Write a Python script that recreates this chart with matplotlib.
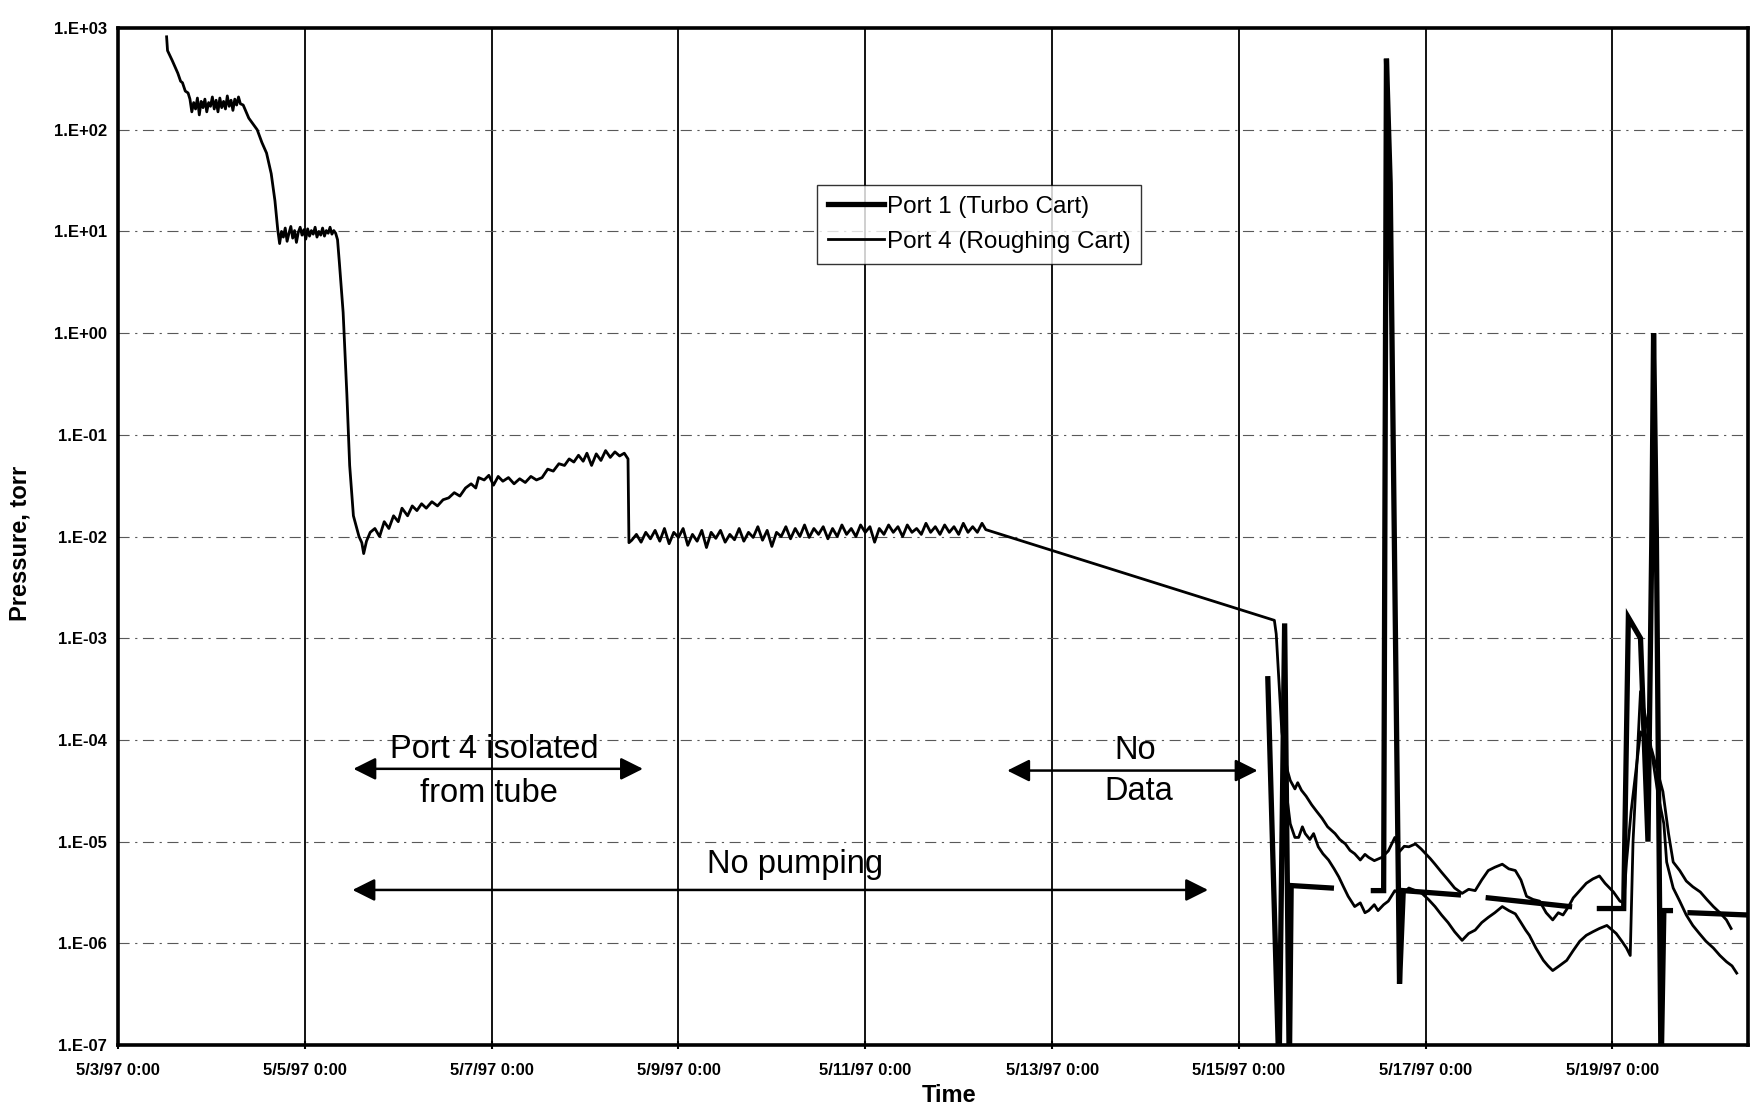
import numpy as np
import matplotlib
matplotlib.use("Agg")
import matplotlib.pyplot as plt
import matplotlib.dates as mdates
from matplotlib.ticker import FixedLocator, FuncFormatter, NullLocator
import datetime as dt

plt.rcParams['font.family'] = ['Liberation Sans', 'DejaVu Sans']

# days after 5/3/97 0:00, pressure in torr
port4_days = [
    0.52, 0.53, 0.58, 0.64, 0.67, 0.69, 0.72, 0.75,
    0.77, 0.79, 0.81, 0.83, 0.85, 0.87, 0.89, 0.91, 0.93, 0.95, 0.97, 0.99,
    1.01, 1.03, 1.05, 1.07, 1.09, 1.11, 1.13, 1.15, 1.17, 1.19, 1.21, 1.23,
    1.25, 1.27, 1.29, 1.31, 1.34, 1.40, 1.49, 1.54, 1.59, 1.64, 1.68,
    1.71, 1.73, 1.75, 1.77, 1.79, 1.81, 1.83, 1.85, 1.87, 1.89, 1.91, 1.93,
    1.95, 1.97, 1.99, 2.01, 2.03, 2.05, 2.07, 2.09, 2.11, 2.13, 2.15, 2.17,
    2.19, 2.21, 2.23, 2.25, 2.27, 2.29, 2.31, 2.33, 2.35,
    2.37, 2.41, 2.45, 2.48, 2.52, 2.58, 2.61, 2.63, 2.66, 2.70, 2.75,
    2.80, 2.85, 2.90, 2.95, 3.00, 3.04, 3.10, 3.15, 3.20, 3.25, 3.30, 3.36,
    3.42, 3.48, 3.54, 3.60, 3.66, 3.72, 3.78, 3.83, 3.86, 3.92, 3.97, 4.02,
    4.07, 4.12, 4.18, 4.24, 4.30, 4.36, 4.42, 4.48, 4.54, 4.60, 4.66, 4.72,
    4.78, 4.83, 4.88, 4.93, 4.98, 5.02, 5.07, 5.12, 5.17, 5.22, 5.27, 5.32,
    5.37, 5.42, 5.46, 5.47,
    5.50, 5.55, 5.60, 5.65, 5.70, 5.75, 5.80, 5.85, 5.90, 5.95, 6.00, 6.05,
    6.10, 6.15, 6.20, 6.25, 6.30, 6.35, 6.40, 6.45, 6.50, 6.55, 6.60, 6.65,
    6.70, 6.75, 6.80, 6.85, 6.90, 6.95, 7.00, 7.05, 7.10, 7.15, 7.20, 7.25,
    7.30, 7.35, 7.40, 7.45, 7.50, 7.55, 7.60, 7.65, 7.70, 7.75, 7.80, 7.85,
    7.90, 7.95, 8.00, 8.05, 8.10, 8.15, 8.20, 8.25, 8.30, 8.35, 8.40, 8.45,
    8.50, 8.55, 8.60, 8.65, 8.70, 8.75, 8.80, 8.85, 8.90, 8.95, 9.00, 9.05,
    9.10, 9.15, 9.20, 9.25, 9.29,
    12.38, 12.40, 12.46, 12.52,
    12.55, 12.60, 12.63, 12.67, 12.72, 12.78, 12.83, 12.89, 12.95, 13.03,
    13.08, 13.14, 13.19, 13.24, 13.30, 13.35, 13.39, 13.45, 13.53, 13.60,
    13.67, 13.72, 13.77, 13.82, 13.89, 13.95, 14.00, 14.05, 14.10, 14.17,
    14.24, 14.31, 14.39, 14.46, 14.53, 14.60, 14.67, 14.74, 14.82, 14.89,
    14.96, 15.02, 15.08, 15.15, 15.22, 15.29, 15.36, 15.42, 15.47, 15.53,
    15.58, 15.65, 15.72, 15.79, 15.86, 15.92, 16.01, 16.08, 16.12,
    16.15, 16.20, 16.30, 16.42, 16.48, 16.54, 16.60, 16.65, 16.72, 16.79,
    16.86, 16.94, 17.01, 17.08, 17.15, 17.22, 17.27,
]
port4_torr = [
    820, 600, 480, 360, 300, 290, 240, 230,
    200, 150, 185, 160, 205, 140, 190, 165, 200, 150, 185, 170,
    210, 160, 195, 150, 205, 165, 190, 160, 215, 170, 195, 155,
    200, 175, 210, 180, 175, 130, 100, 75, 59, 37, 20,
    10.4, 7.6, 10.0, 8.8, 10.8, 8.0, 9.6, 11.2, 8.6, 10.2, 7.8, 9.8,
    11.0, 9.2, 10.4, 8.4, 10.6, 9.0, 10.2, 9.4, 11.0, 8.8, 10.0, 9.2,
    10.8, 9.0, 10.2, 9.6, 11.0, 9.4, 10.2, 9.6, 8.3,
    4.9, 1.6, 0.25, 0.05, 0.016, 0.010, 0.0087, 0.0068, 0.009, 0.011, 0.012,
    0.010, 0.014, 0.012, 0.016, 0.014, 0.019, 0.016, 0.020, 0.018, 0.021, 0.019, 0.022,
    0.020, 0.023, 0.024, 0.027, 0.025, 0.030, 0.033, 0.030, 0.038, 0.036, 0.040, 0.032,
    0.039, 0.035, 0.038, 0.033, 0.037, 0.034, 0.039, 0.036, 0.038, 0.046, 0.044, 0.052,
    0.050, 0.058, 0.054, 0.063, 0.055, 0.066, 0.050, 0.065, 0.056, 0.070, 0.060, 0.068,
    0.062, 0.066, 0.058, 0.0087,
    0.0092, 0.0105, 0.0088, 0.011, 0.0095, 0.0115, 0.0090, 0.012, 0.0085, 0.011, 0.0098, 0.012,
    0.0082, 0.0105, 0.0090, 0.0115, 0.0078, 0.011, 0.0096, 0.0115, 0.0088, 0.0105, 0.0093, 0.012,
    0.0090, 0.011, 0.0098, 0.0125, 0.0092, 0.0115, 0.0080, 0.011, 0.010, 0.0125, 0.0095, 0.012,
    0.010, 0.013, 0.0098, 0.012, 0.0105, 0.0125, 0.0095, 0.012, 0.010, 0.013, 0.0105, 0.012,
    0.010, 0.013, 0.011, 0.0125, 0.0088, 0.012, 0.0105, 0.013, 0.011, 0.0125, 0.010, 0.013,
    0.011, 0.012, 0.0105, 0.0135, 0.011, 0.0125, 0.0105, 0.013, 0.011, 0.0125, 0.0105, 0.0135,
    0.011, 0.0125, 0.011, 0.0135, 0.0117,
    1.5e-3, 1.1e-3, 1.2e-4, 5.0e-5,
    4.0e-5, 3.3e-5, 3.8e-5, 3.2e-5, 2.8e-5, 2.3e-5, 2.0e-5, 1.7e-5, 1.4e-5, 1.2e-5,
    1.05e-5, 9.5e-6, 8.2e-6, 7.6e-6, 6.6e-6, 7.5e-6, 7.0e-6, 6.5e-6, 7.0e-6, 8.1e-6,
    1.1e-5, 8.0e-6, 9.0e-6, 8.9e-6, 9.5e-6, 8.5e-6, 7.6e-6, 6.8e-6, 6.0e-6, 5.0e-6,
    4.2e-6, 3.5e-6, 3.1e-6, 3.4e-6, 3.3e-6, 4.2e-6, 5.2e-6, 5.6e-6, 6.0e-6, 5.4e-6,
    5.2e-6, 4.2e-6, 2.9e-6, 2.7e-6, 2.6e-6, 2.0e-6, 1.7e-6, 2.0e-6, 1.9e-6, 2.3e-6,
    2.8e-6, 3.3e-6, 3.9e-6, 4.3e-6, 4.6e-6, 3.9e-6, 3.2e-6, 2.6e-6, 2.5e-6,
    6.3e-6, 2.0e-5, 1.2e-4, 8.0e-5, 5.0e-5, 3.1e-5, 1.2e-5, 6.3e-6, 5.2e-6, 4.1e-6,
    3.6e-6, 3.2e-6, 2.7e-6, 2.3e-6, 2.0e-6, 1.7e-6, 1.4e-6,
]

# second thin trace after pumping restarts
lower_days = [
    12.47, 12.52, 12.55, 12.60, 12.64, 12.68, 12.71, 12.76, 12.80, 12.85,
    12.90, 12.96, 13.02, 13.07, 13.12, 13.17, 13.24, 13.30, 13.35, 13.39,
    13.45, 13.49, 13.55, 13.60, 13.67, 13.74, 13.82, 13.89, 13.96, 14.03,
    14.10, 14.17, 14.24, 14.31, 14.39, 14.46, 14.53, 14.60, 14.67, 14.74,
    14.82, 14.89, 14.96, 15.02, 15.07, 15.11, 15.18, 15.26, 15.31, 15.36,
    15.43, 15.51, 15.58, 15.65, 15.72, 15.79, 15.86, 15.94, 16.04, 16.10,
    16.15, 16.19, 16.22, 16.30, 16.40, 16.49, 16.55, 16.58, 16.65, 16.72,
    16.79, 16.86, 16.93, 17.00, 17.08, 17.15, 17.22, 17.28, 17.33,
]
lower_torr = [
    6.0e-5, 2.5e-5, 1.5e-5, 1.1e-5, 1.1e-5, 1.4e-5, 1.2e-5, 1.05e-5, 1.2e-5, 8.9e-6,
    7.6e-6, 6.6e-6, 5.4e-6, 4.5e-6, 3.6e-6, 2.9e-6, 2.3e-6, 2.5e-6, 2.0e-6, 2.1e-6,
    2.4e-6, 2.1e-6, 2.4e-6, 2.6e-6, 3.3e-6, 3.0e-6, 3.5e-6, 3.3e-6, 3.1e-6, 2.7e-6,
    2.3e-6, 1.9e-6, 1.6e-6, 1.3e-6, 1.07e-6, 1.25e-6, 1.35e-6, 1.6e-6, 1.8e-6, 2.0e-6,
    2.3e-6, 2.1e-6, 1.95e-6, 1.6e-6, 1.35e-6, 1.2e-6, 9.0e-7, 6.8e-7, 6.0e-7, 5.4e-7,
    6.0e-7, 6.8e-7, 8.5e-7, 1.05e-6, 1.2e-6, 1.3e-6, 1.4e-6, 1.5e-6, 1.25e-6, 1.05e-6,
    9.0e-7, 7.6e-7, 1.0e-5, 3.0e-4, 1.0e-4, 2.8e-5, 1.5e-5, 6.3e-6, 3.5e-6, 2.6e-6,
    1.9e-6, 1.5e-6, 1.25e-6, 1.05e-6, 9.0e-7, 7.6e-7, 6.6e-7, 6.0e-7, 5.1e-7,
]

# turbo cart gauge, nan = gap in the record, 5e-8 = off scale low
port1_days = [
    12.31, 12.43, 12.49, 12.54, 12.56, 12.99, 13.20,
    13.44, 13.55, 13.58, 13.62, 13.72, 13.76, 14.35, 14.50,
    14.67, 15.54, 15.70,
    15.86, 16.12, 16.17, 16.30, 16.38, 16.42, 16.44, 16.47, 16.52, 16.55, 16.62, 16.72,
    16.83, 17.45,
]
port1_torr = [
    4e-4, 5e-8, 1.4e-3, 5e-8, 3.7e-6, 3.5e-6, np.nan,
    3.3e-6, 3.3e-6, 5e2, 3e1, 4e-7, 3.3e-6, 3.0e-6, np.nan,
    2.8e-6, 2.3e-6, np.nan,
    2.2e-6, 2.2e-6, 1.6e-3, 1.0e-3, 1e-5, 8e-3, 1.0, 1e-2, 5e-8, 2.1e-6, 2.1e-6, np.nan,
    2.0e-6, 1.9e-6,
]

start = dt.datetime(1997, 5, 3)
t0 = mdates.date2num(start)
x_max_days = 17.45


def x(days):
    return t0 + np.asarray(days, dtype=float)


fig = plt.figure(figsize=(17.59, 11.04), dpi=100)
ax = fig.add_axes([0.0671, 0.0534, 0.9266, 0.9212])

ax.plot(x(port1_days), port1_torr, color='black', lw=3.8,
        solid_joinstyle='miter', label='Port 1 (Turbo Cart)', zorder=4)
ax.plot(x(port4_days), port4_torr, color='black', lw=2.0,
        label='Port 4 (Roughing Cart)', zorder=3)
ax.plot(x(lower_days), lower_torr, color='black', lw=2.0, zorder=3)

ax.set_yscale('log')
ax.set_ylim(1e-7, 1e3)
ax.set_xlim(t0, t0 + x_max_days)
ax.xaxis_date()

# ticks / grid
tick_days = list(range(0, 17, 2))
ax.xaxis.set_major_locator(FixedLocator(x(tick_days)))
ax.xaxis.set_major_formatter(FuncFormatter(
    lambda v, p: (lambda d: f"{d.month}/{d.day}/{d:%y} 0:00")(mdates.num2date(v))))
ax.yaxis.set_major_locator(FixedLocator([10.0 ** k for k in range(-7, 4)]))
ax.yaxis.set_major_formatter(FuncFormatter(lambda v, p: "1.E%+03d" % round(np.log10(v))))
ax.yaxis.set_minor_locator(NullLocator())

for d in tick_days[1:]:
    ax.axvline(t0 + d, color='black', lw=1.3, zorder=1)
for k in range(-6, 3):
    ax.axhline(10.0 ** k, color='0.35', lw=0.8, ls=(0, (10, 5, 2, 5)), zorder=1)

for s in ax.spines.values():
    s.set_linewidth(2.6)

ax.tick_params(axis='x', length=6, width=1.5, direction='inout', pad=10,
               labelsize=12)
ax.tick_params(axis='y', length=0, pad=8, labelsize=12)
for lab in ax.get_xticklabels() + ax.get_yticklabels():
    lab.set_fontweight('bold')

ax.set_xlabel('Time', fontsize=17, fontweight='bold', va='center')
ax.xaxis.set_label_coords(0.510, -0.050)
ax.set_ylabel('Pressure, torr', fontsize=17, fontweight='bold', va='center')
ax.yaxis.set_label_coords(-0.060, 0.493)

# annotations
arrow = dict(arrowstyle='<|-|>', lw=1.8, color='black', mutation_scale=34,
             shrinkA=0, shrinkB=0)
ax.annotate('', xy=(t0 + 5.62, 5.2e-5), xytext=(t0 + 2.52, 5.2e-5), arrowprops=arrow)
ax.annotate('', xy=(t0 + 11.67, 3.35e-6), xytext=(t0 + 2.51, 3.35e-6), arrowprops=arrow)
ax.annotate('', xy=(t0 + 12.2, 5.0e-5), xytext=(t0 + 9.52, 5.0e-5), arrowprops=arrow)

txt = dict(fontsize=23.5, ha='center', va='center', color='black')
ax.text(t0 + 4.03, 8.1e-5, 'Port 4 isolated', **txt)
ax.text(t0 + 3.97, 2.95e-5, 'from tube', **txt)
ax.text(t0 + 7.25, 5.9e-6, 'No pumping', **txt)
ax.text(t0 + 10.89, 7.8e-5, 'No', **txt)
ax.text(t0 + 10.93, 3.1e-5, 'Data', **txt)

leg = ax.legend(loc='upper left', bbox_to_anchor=(0.429, 0.846), fontsize=17.5,
                frameon=True, fancybox=False, handlelength=2.3, handletextpad=0.1,
                borderpad=0.45, labelspacing=0.55, borderaxespad=0)
leg.get_frame().set_edgecolor('black')
leg.get_frame().set_linewidth(1.0)

fig.savefig('out.png', dpi=100, facecolor='white')
